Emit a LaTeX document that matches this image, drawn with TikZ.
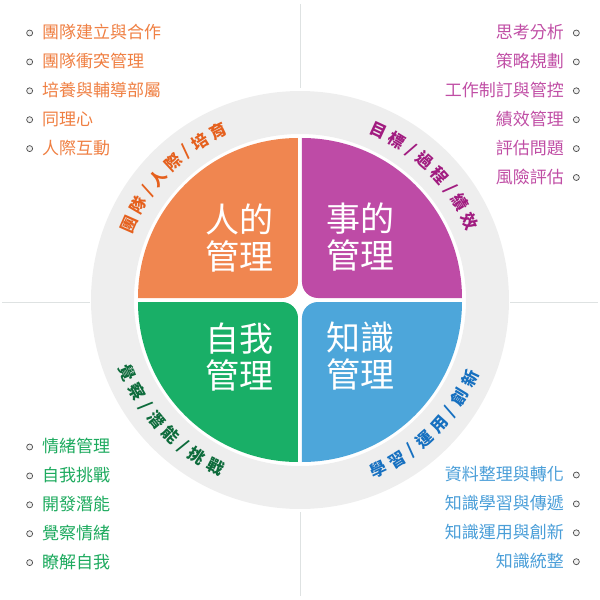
\documentclass[tikz,border=0pt]{standalone}
\usepackage{fontspec}
\newfontfamily\cjk{Noto Sans CJK TC}
\usetikzlibrary{positioning}
\definecolor{renfill}{RGB}{240,134,80}
\definecolor{renring}{RGB}{229,96,29}
\definecolor{renitem}{RGB}{239,127,66}
\definecolor{shifill}{RGB}{190,75,166}
\definecolor{shiring}{RGB}{161,28,128}
\definecolor{shiitem}{RGB}{192,78,165}
\definecolor{zifill}{RGB}{25,175,103}
\definecolor{ziring}{RGB}{13,107,59}
\definecolor{ziitem}{RGB}{29,170,94}
\definecolor{zhifill}{RGB}{77,166,218}
\definecolor{zhiring}{RGB}{22,112,192}
\definecolor{zhiitem}{RGB}{74,158,216}
\definecolor{ringgrey}{RGB}{238,238,238}
\definecolor{guidegrey}{RGB}{222,226,226}
\newcommand\ringsep{/}

\begin{document}
\begin{tikzpicture}[x=1pt, y=1pt,
  title/.style={font=\cjk\fontsize{34}{37}\selectfont, text=white,
    align=center, inner sep=0pt},
  ringtext/.style={font=\cjk\bfseries\fontsize{16.5}{16.5}\selectfont,
    inner sep=0pt},
  item/.style={font=\cjk\fontsize{17}{17}\selectfont, inner sep=0pt,
    text height=14pt, text depth=3pt},
  itemL/.style={item, anchor=west},
  itemR/.style={item, anchor=east},
  dot/.style={circle, draw=black!70, fill=black!6, line width=0.7pt,
    minimum size=6pt, inner sep=0pt},
  guide/.style={draw=guidegrey, line width=0.8pt},
  node distance=11.5pt]
\useasboundingbox (-300,-300) rectangle (300,300);
% thin guide lines
\coordinate (gt1) at (0,296);   \coordinate (gt2) at (0,212);
\coordinate (gb1) at (0,-212);  \coordinate (gb2) at (0,-296);
\coordinate (gl1) at (-298,-2); \coordinate (gl2) at (-210,-2);
\coordinate (gr1) at (210,-2);  \coordinate (gr2) at (298,-2);
\draw[guide] (gt1) -- (gt2);
\draw[guide] (gb1) -- (gb2);
\draw[guide] (gl1) -- (gl2);
\draw[guide] (gr1) -- (gr2);
% grey ring
\fill[ringgrey, even odd rule] (0,0) circle[radius=209] circle[radius=166];
% four quarters
\fill[renfill] (-2,80) [rounded corners=16pt] -- (-2,2) -- (-80,2)
  [sharp corners] -- (-162,2) arc[start angle=180, end angle=90, radius=160] -- cycle;
\fill[shifill] (2,80) [rounded corners=16pt] -- (2,2) -- (80,2)
  [sharp corners] -- (162,2) arc[start angle=0, end angle=90, radius=160] -- cycle;
\fill[zifill] (-2,-80) [rounded corners=16pt] -- (-2,-2) -- (-80,-2)
  [sharp corners] -- (-162,-2) arc[start angle=180, end angle=270, radius=160] -- cycle;
\fill[zhifill] (2,-80) [rounded corners=16pt] -- (2,-2) -- (80,-2)
  [sharp corners] -- (162,-2) arc[start angle=0, end angle=-90, radius=160] -- cycle;
\node[title] (ren) at (-60,62) {人的\\管理};
\node[title] (shi) at (61,63) {事的\\管理};
\node[title] (zi) at (-60,-57) {自我\\管理};
\node[title] (zhi) at (61,-56) {知識\\管理};
% text on the ring
\foreach \c/\o in {團/-3.1,隊/-2.1,\ringsep/-1.3,人/-0.5,際/0.5,\ringsep/1.3,培/2.1,育/3.1}{
  \pgfmathsetmacro\ang{136-6.5*\o}
  \node[ringtext, text=renring, rotate=\ang-90] at (\ang:187) {\c};}
\foreach \c/\o in {目/-3.1,標/-2.1,\ringsep/-1.3,過/-0.5,程/0.5,\ringsep/1.3,績/2.1,效/3.1}{
  \pgfmathsetmacro\ang{45-6.5*\o}
  \node[ringtext, text=shiring, rotate=\ang-90] at (\ang:187) {\c};}
\foreach \c/\o in {覺/-3.1,察/-2.1,\ringsep/-1.3,潛/-0.5,能/0.5,\ringsep/1.3,挑/2.1,戰/3.1}{
  \pgfmathsetmacro\ang{223+6.5*\o}
  \node[ringtext, text=ziring, rotate=\ang+90] at (\ang:187) {\c};}
\foreach \c/\o in {學/-3.1,習/-2.1,\ringsep/-1.3,運/-0.5,用/0.5,\ringsep/1.3,創/2.1,新/3.1}{
  \pgfmathsetmacro\ang{315+6.5*\o}
  \node[ringtext, text=zhiring, rotate=\ang+90] at (\ang:187) {\c};}
% upper left list
\node[itemL, text=renitem] (r1) at (-258,267) {團隊建立與合作};
\node[itemL, text=renitem, below=of r1.south west, anchor=north west] (r2) {團隊衝突管理};
\node[itemL, text=renitem, below=of r2.south west, anchor=north west] (r3) {培養與輔導部屬};
\node[itemL, text=renitem, below=of r3.south west, anchor=north west] (r4) {同理心};
\node[itemL, text=renitem, below=of r4.south west, anchor=north west] (r5) {人際互動};
% upper right list
\node[itemR, text=shiitem] (s1) at (264,267) {思考分析};
\node[itemR, text=shiitem, below=of s1.south east, anchor=north east] (s2) {策略規劃};
\node[itemR, text=shiitem, below=of s2.south east, anchor=north east] (s3) {工作制訂與管控};
\node[itemR, text=shiitem, below=of s3.south east, anchor=north east] (s4) {績效管理};
\node[itemR, text=shiitem, below=of s4.south east, anchor=north east] (s5) {評估問題};
\node[itemR, text=shiitem, below=of s5.south east, anchor=north east] (s6) {風險評估};
% lower left list
\node[itemL, text=ziitem] (z1) at (-258,-147) {情緒管理};
\node[itemL, text=ziitem, below=of z1.south west, anchor=north west] (z2) {自我挑戰};
\node[itemL, text=ziitem, below=of z2.south west, anchor=north west] (z3) {開發潛能};
\node[itemL, text=ziitem, below=of z3.south west, anchor=north west] (z4) {覺察情緒};
\node[itemL, text=ziitem, below=of z4.south west, anchor=north west] (z5) {瞭解自我};
% lower right list
\node[itemR, text=zhiitem] (k1) at (264,-175) {資料整理與轉化};
\node[itemR, text=zhiitem, below=of k1.south east, anchor=north east] (k2) {知識學習與傳遞};
\node[itemR, text=zhiitem, below=of k2.south east, anchor=north east] (k3) {知識運用與創新};
\node[itemR, text=zhiitem, below=of k3.south east, anchor=north east] (k4) {知識統整};
% bullets
\foreach \n in {r1,r2,r3,r4,r5,z1,z2,z3,z4,z5}
  \node[dot, left=9pt of \n.west] (\n d) {};
\foreach \n in {s1,s2,s3,s4,s5,s6,k1,k2,k3,k4}
  \node[dot, right=9pt of \n.east] (\n d) {};
\end{tikzpicture}
\end{document}
